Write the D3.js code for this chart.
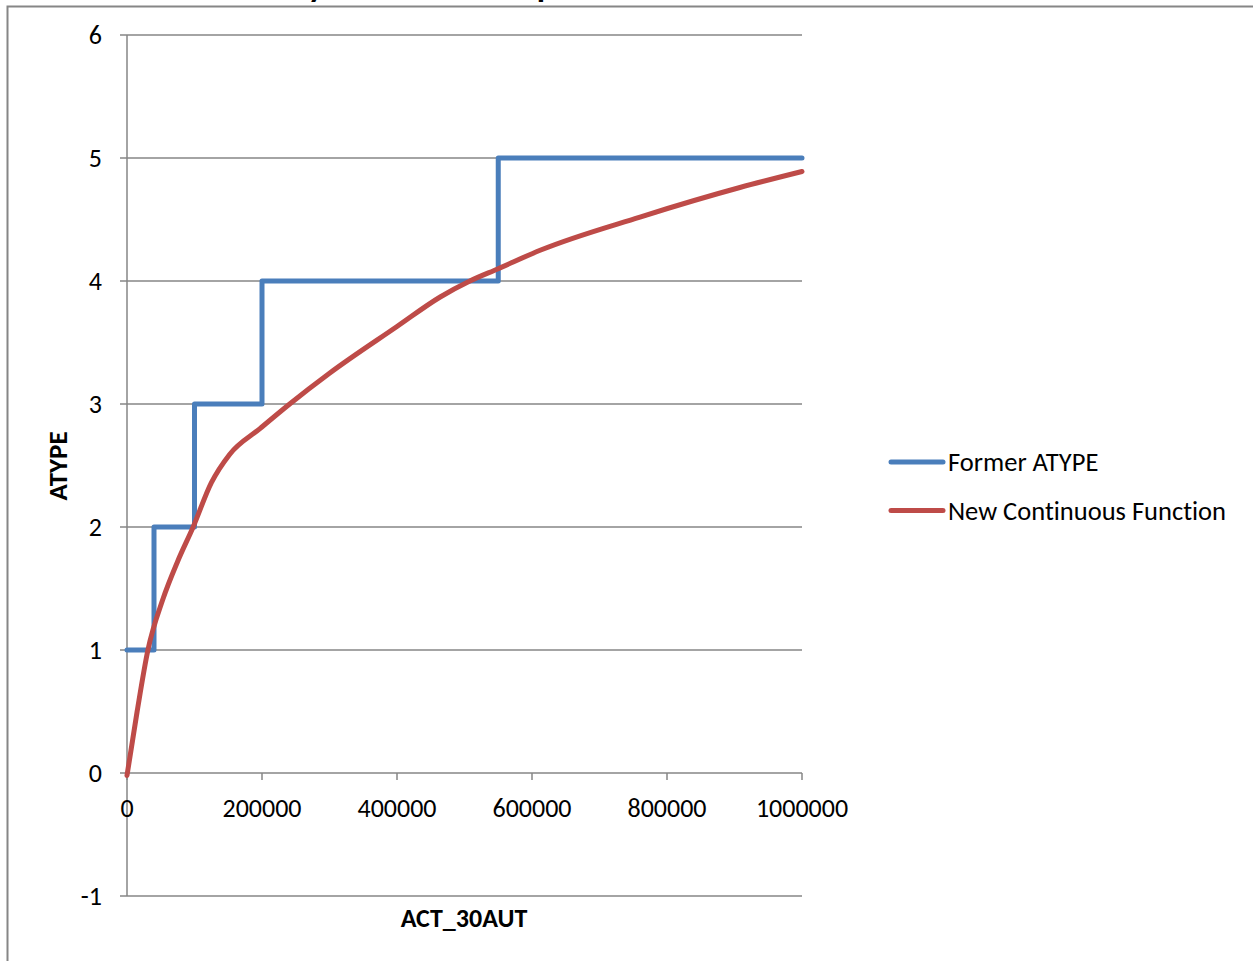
<!DOCTYPE html>
<html><head><meta charset="utf-8">
<script src="https://cdn.jsdelivr.net/npm/d3@7"></script>
<style>
body{margin:0;background:#fff;overflow:hidden}
text{font-family:Carlito,Calibri,Lato,"Open Sans","Noto Sans",sans-serif;fill:#000;font-variant-ligatures:none;font-feature-settings:"liga" 0}
</style></head><body>
<svg id="c" width="1253" height="961"></svg>
<script>
const title = "Density vs. ATYPE Comparison";
const xLabel = "ACT_30AUT";
const yLabel = "ATYPE";
const xTicks = [0, 200000, 400000, 600000, 800000, 1000000];
const yTicks = [-1, 0, 1, 2, 3, 4, 5, 6];
const seriesNames = ["Former ATYPE", "New Continuous Function"];
const seriesColors = ["#4A7EBB", "#BE4B48"];
// Former ATYPE step function (x, y)
const formerX = [0, 40000, 40000, 100000, 100000, 200000, 200000, 550000, 550000, 1000000];
const formerY = [1, 1, 2, 2, 3, 3, 4, 4, 5, 5];
// New continuous function (x, y)
const newX = [0, 15000, 31000, 53000, 75000, 98000, 125000, 152000, 197000, 241000, 300000, 400000, 464000, 508000, 550000, 612000, 760000, 908000, 1000000];
const newY = [-0.02, 0.5, 1.0, 1.41, 1.72, 2.0, 2.36, 2.59, 2.8, 3.0, 3.25, 3.63, 3.87, 4.0, 4.1, 4.25, 4.52, 4.76, 4.89];

const svg = d3.select("#c");
const x = d3.scaleLinear().domain([0, 1000000]).range([127, 802]);
const y = d3.scaleLinear().domain([-1, 6]).range([896, 35]);

// chart area border
svg.append("rect").attr("x", 7.5).attr("y", 6.5).attr("width", 1400).attr("height", 1100)
  .attr("fill", "none").attr("stroke", "#868686").attr("stroke-width", 2);

// title (mostly cut off at top)
const t = svg.append("text").attr("x", 0).attr("y", -3).attr("font-size", 34).attr("font-weight", "bold").text(title);
const iy = title.indexOf("y");
const sx = t.node().getStartPositionOfChar(iy).x;
t.attr("x", 308 - sx);

// gridlines
const grid = "#868686";
svg.append("g").selectAll("line").data(yTicks).join("line")
  .attr("x1", 120).attr("x2", x(1000000))
  .attr("y1", d => y(d)).attr("y2", d => y(d))
  .attr("stroke", grid).attr("stroke-width", 1.5);
// y axis line
svg.append("line").attr("x1", x(0)).attr("x2", x(0)).attr("y1", y(6)).attr("y2", y(-1))
  .attr("stroke", grid).attr("stroke-width", 1.5);
// x ticks (axis at y=0)
svg.append("g").selectAll("line").data(xTicks).join("line")
  .attr("x1", d => x(d)).attr("x2", d => x(d)).attr("y1", y(0)).attr("y2", y(0) + 7)
  .attr("stroke", grid).attr("stroke-width", 1.5);

// y tick labels
svg.append("g").selectAll("text").data(yTicks).join("text")
  .attr("x", 102).attr("y", d => y(d) + 9).attr("text-anchor", "end").attr("font-size", 26)
  .text(d => d);
// x tick labels
svg.append("g").selectAll("text").data(xTicks).join("text")
  .attr("x", d => x(d)).attr("y", y(0) + 44).attr("text-anchor", "middle").attr("font-size", 26)
  .text(d => d);

// axis titles
svg.append("text").attr("x", 464).attr("y", 927).attr("text-anchor", "middle")
  .attr("font-size", 26).attr("font-weight", "bold").text(xLabel);
svg.append("text").attr("transform", "translate(67,466) rotate(-90)").attr("text-anchor", "middle")
  .attr("font-size", 27).attr("font-weight", "bold").text(yLabel);

// series
const former = formerX.map((v, i) => [v, formerY[i]]);
svg.append("path").attr("d", d3.line().x(d => x(d[0])).y(d => y(d[1]))(former))
  .attr("fill", "none").attr("stroke", seriesColors[0]).attr("stroke-width", 5)
  .attr("stroke-linecap", "round").attr("stroke-linejoin", "round");
const nw = newX.map((v, i) => [v, newY[i]]);
svg.append("path").attr("d", d3.line().x(d => x(d[0])).y(d => y(d[1])).curve(d3.curveMonotoneX)(nw))
  .attr("fill", "none").attr("stroke", seriesColors[1]).attr("stroke-width", 5)
  .attr("stroke-linecap", "round").attr("stroke-linejoin", "round");

// legend
const lg = svg.append("g").selectAll("g").data(seriesNames).join("g")
  .attr("transform", (d, i) => `translate(891,${462 + i * 48.5})`);
lg.append("line").attr("x1", 0).attr("x2", 52).attr("y1", 0).attr("y2", 0)
  .attr("stroke", (d, i) => seriesColors[i]).attr("stroke-width", 5).attr("stroke-linecap", "round");
lg.append("text").attr("x", 57).attr("y", 9).attr("font-size", 26.5).text(d => d);
</script></body></html>
